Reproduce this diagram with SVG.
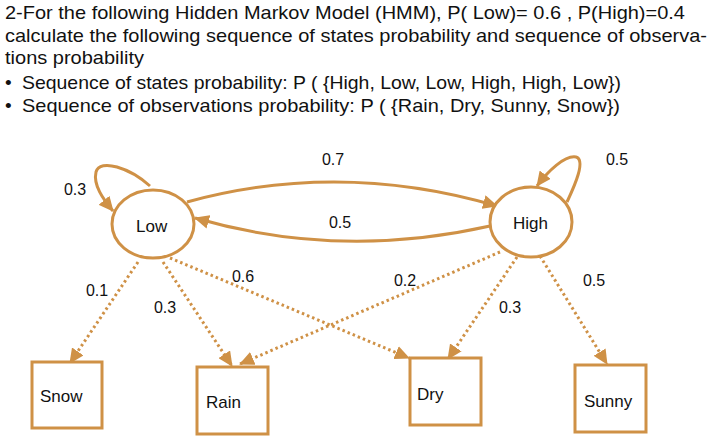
<svg xmlns="http://www.w3.org/2000/svg" width="714" height="441" viewBox="0 0 714 441">
<style>
.hdr{font-family:"Liberation Sans",Arial,sans-serif;font-size:19px;fill:#111}
.lbl{font-family:"Liberation Sans",Arial,sans-serif;font-size:16px;fill:#111;text-anchor:middle}
.nt{font-family:"Liberation Sans",Arial,sans-serif;font-size:17px;fill:#111}
.st{fill:#fff;stroke:#CF9146;stroke-width:3}
.arc{fill:none;stroke:#CF9146;stroke-width:3}
.dot{fill:none;stroke:#CF9146;stroke-width:3;stroke-dasharray:2.5 3}
</style>
<defs>
<marker id="ah" markerUnits="userSpaceOnUse" markerWidth="16" markerHeight="14" refX="14" refY="7" orient="auto">
<path d="M0,0 L15,7 L0,14 Z" fill="#CF9146"/>
</marker>
</defs>
<rect width="714" height="441" fill="#fff"/>
<g id="header">
<text class="hdr" x="5" y="19" textLength="680" lengthAdjust="spacingAndGlyphs">2-For the following Hidden Markov Model (HMM), P( Low)= 0.6 , P(High)=0.4</text>
<text class="hdr" x="5" y="42" textLength="702" lengthAdjust="spacingAndGlyphs">calculate the following sequence of states probability and sequence of observa-</text>
<text class="hdr" x="5" y="64" textLength="139" lengthAdjust="spacingAndGlyphs">tions probability</text>
<text class="hdr" x="5" y="89">•</text>
<text class="hdr" x="22" y="89" textLength="599" lengthAdjust="spacingAndGlyphs">Sequence of states probability: P ( {High, Low, Low, High, High, Low})</text>
<text class="hdr" x="5" y="112">•</text>
<text class="hdr" x="22" y="112" textLength="598" lengthAdjust="spacingAndGlyphs">Sequence of observations probability: P ( {Rain, Dry, Sunny, Snow})</text>
</g>
<g id="connectors">
<path class="arc" d="M150,186 C130,168 100,158 96,172 C93,185 103,199 113,211" marker-end="url(#ah)"/>
<path class="arc" d="M567,202 C575,185 586,160 576,157 C565,155 548,171 537,186" marker-end="url(#ah)"/>
<path class="arc" d="M187,202 Q340,160 497,206" marker-end="url(#ah)"/>
<path class="arc" d="M490,226 Q340,260 195,218" marker-end="url(#ah)"/>
<path class="dot" d="M138,262 L70,363" marker-end="url(#ah)"/>
<path class="dot" d="M163,262 L232,366" marker-end="url(#ah)"/>
<path class="dot" d="M170,258 L409,358" marker-end="url(#ah)"/>
<path class="dot" d="M500,252 L240,364" marker-end="url(#ah)"/>
<path class="dot" d="M517,257 L448,359" marker-end="url(#ah)"/>
<path class="dot" d="M540,256 L607,364" marker-end="url(#ah)"/>
<text class="lbl" x="75" y="195">0.3</text>
<text class="lbl" x="617" y="165">0.5</text>
<text class="lbl" x="333" y="165">0.7</text>
<text class="lbl" x="340" y="228">0.5</text>
<text class="lbl" x="97" y="296">0.1</text>
<text class="lbl" x="165" y="313">0.3</text>
<text class="lbl" x="243" y="282">0.6</text>
<text class="lbl" x="405" y="286">0.2</text>
<text class="lbl" x="510" y="313">0.3</text>
<text class="lbl" x="594" y="286">0.5</text>
</g>
<g id="Low">
<ellipse class="st" cx="153" cy="224" rx="41" ry="34"/>
<text class="nt" x="136" y="232">Low</text>
</g>
<g id="High">
<ellipse class="st" cx="531" cy="222" rx="41" ry="35"/>
<text class="nt" x="513" y="229">High</text>
</g>
<g id="Snow">
<rect class="st" x="32" y="362" width="70" height="66"/>
<text class="nt" x="40" y="402">Snow</text>
</g>
<g id="Rain">
<rect class="st" x="197" y="367" width="71" height="67"/>
<text class="nt" x="206" y="408">Rain</text>
</g>
<g id="Dry">
<rect class="st" x="410" y="358" width="71" height="67"/>
<text class="nt" x="417" y="400">Dry</text>
</g>
<g id="Sunny">
<rect class="st" x="575" y="365" width="71" height="67"/>
<text class="nt" x="584" y="407">Sunny</text>
</g>
</svg>
